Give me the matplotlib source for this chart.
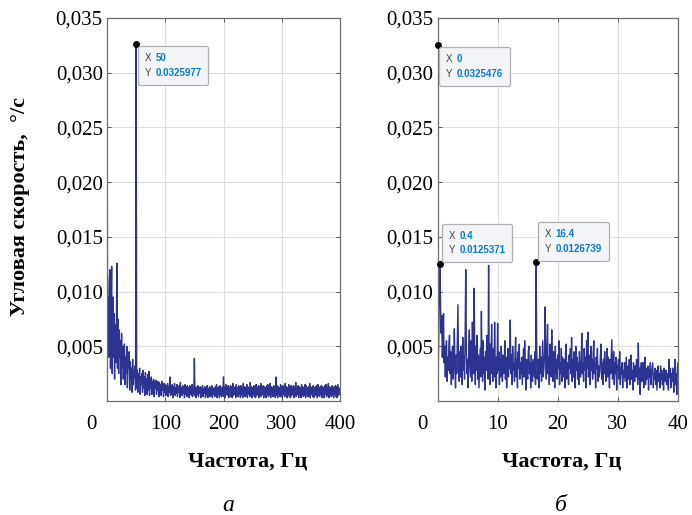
import matplotlib
matplotlib.use('Agg')
import matplotlib.pyplot as plt
import numpy as np
from matplotlib.ticker import FuncFormatter
from matplotlib.offsetbox import TextArea, HPacker, VPacker, AnnotationBbox

# amplitude spectra, values in 1e-4 deg/s
# panel a: 0..400 Hz, 1 Hz step
freq_a = np.arange(0, 401, 1)
amp_a = [
    325, 60, 95, 40, 110, 120, 30, 85, 123, 25,
    95, 40, 80, 20, 70, 35, 60, 126, 30, 75,
    25, 65, 40, 55, 15, 62, 30, 50, 20, 45,
    52, 15, 40, 25, 50, 12, 38, 30, 45, 10,
    36, 20, 30, 8, 38, 15, 28, 22, 32, 10,
    326, 12, 28, 8, 25, 18, 30, 6, 22, 15,
    25, 8, 28, 12, 22, 5, 26, 14, 20, 6,
    24, 10, 27, 5, 20, 12, 22, 6, 18, 10,
    20, 4, 18, 12, 19, 6, 16, 10, 18, 4,
    17, 8, 15, 5, 18, 10, 14, 4, 16, 8,
    15, 5, 14, 9, 16, 4, 13, 8, 22, 5,
    14, 6, 15, 3, 13, 9, 16, 5, 12, 7,
    15, 4, 13, 8, 14, 3, 17, 6, 12, 5,
    14, 7, 12, 3, 15, 6, 13, 4, 14, 8,
    12, 3, 14, 6, 13, 5, 15, 4, 12, 7,
    39, 5, 13, 3, 12, 6, 14, 4, 12, 7,
    13, 3, 12, 6, 14, 4, 11, 7, 13, 3,
    12, 5, 14, 3, 11, 6, 13, 4, 12, 5,
    14, 3, 12, 6, 11, 4, 13, 5, 15, 3,
    12, 6, 13, 3, 14, 5, 11, 4, 13, 6,
    22, 4, 13, 3, 15, 6, 12, 5, 14, 3,
    12, 6, 14, 4, 13, 3, 16, 5, 12, 6,
    13, 3, 15, 5, 12, 4, 14, 6, 13, 3,
    14, 5, 12, 3, 16, 6, 13, 4, 12, 5,
    15, 3, 13, 6, 12, 4, 17, 5, 13, 3,
    12, 6, 14, 4, 13, 3, 15, 5, 12, 6,
    14, 3, 13, 5, 16, 4, 12, 6, 14, 3,
    13, 5, 12, 3, 14, 6, 15, 4, 12, 5,
    16, 3, 13, 6, 12, 4, 14, 5, 13, 3,
    22, 5, 14, 3, 13, 6, 12, 4, 15, 5,
    13, 3, 14, 6, 12, 4, 16, 5, 13, 3,
    12, 6, 15, 4, 13, 3, 14, 5, 12, 6,
    14, 3, 13, 5, 17, 4, 12, 6, 14, 3,
    13, 5, 12, 3, 15, 6, 13, 4, 12, 5,
    15, 3, 14, 6, 12, 4, 13, 5, 16, 3,
    12, 6, 13, 4, 14, 3, 12, 5, 13, 6,
    14, 3, 15, 5, 12, 4, 13, 6, 14, 3,
    13, 5, 12, 3, 14, 6, 15, 4, 12, 5,
    16, 3, 13, 6, 12, 4, 14, 5, 13, 3,
    12, 6, 14, 4, 13, 3, 15, 5, 12, 6,
    10,
]

# panel b: 0..40 Hz, 0.1 Hz step
freq_b = np.round(np.arange(0, 401) * 0.1, 1)
amp_b = [
    325, 20, 60, 95, 125, 90, 62, 78, 40, 55,
    80, 35, 50, 22, 48, 55, 18, 40, 28, 52,
    60, 25, 45, 15, 38, 50, 20, 33, 66, 30,
    12, 42, 25, 55, 88, 30, 18, 45, 22, 50,
    35, 15, 58, 28, 40, 20, 62, 120, 45, 25,
    38, 12, 48, 65, 30, 22, 55, 18, 72, 40,
    25, 103, 35, 15, 50, 28, 60, 20, 42, 12,
    30, 48, 22, 82, 35, 18, 55, 25, 40, 10,
    45, 28, 60, 35, 20, 124, 38, 15, 52, 25,
    70, 30, 18, 48, 22, 72, 35, 12, 40, 25,
    71, 28, 45, 15, 38, 22, 50, 30, 18, 42,
    25, 35, 55, 20, 40, 12, 32, 48, 22, 38,
    30, 74, 25, 42, 15, 50, 28, 35, 18, 45,
    58, 22, 38, 12, 45, 30, 52, 20, 35, 25,
    40, 15, 32, 48, 22, 55, 28, 10, 38, 30,
    20, 45, 50, 25, 35, 12, 42, 28, 18, 38,
    30, 22, 45, 15, 127, 50, 20, 38, 28, 12,
    50, 25, 40, 18, 35, 55, 22, 30, 42, 86,
    35, 20, 48, 70, 25, 40, 15, 52, 30, 22,
    65, 28, 18, 45, 35, 12, 50, 25, 38, 20,
    42, 30, 55, 15, 35, 25, 48, 18, 40, 28,
    22, 38, 12, 45, 52, 20, 35, 28, 15, 42,
    30, 48, 25, 58, 18, 38, 22, 45, 32, 12,
    50, 28, 40, 20, 35, 15, 45, 30, 22, 38,
    62, 25, 35, 18, 48, 28, 40, 12, 55, 30,
    63, 22, 42, 35, 15, 50, 28, 38, 20, 45,
    55, 25, 35, 12, 40, 30, 48, 18, 32, 22,
    28, 42, 52, 20, 35, 15, 38, 25, 45, 30,
    18, 35, 48, 22, 40, 28, 12, 38, 25, 42,
    56, 20, 30, 45, 15, 35, 25, 40, 10, 32,
    28, 38, 20, 45, 15, 30, 25, 35, 12, 28,
    22, 35, 18, 30, 40, 12, 25, 32, 20, 38,
    15, 30, 42, 20, 28, 10, 35, 25, 18, 32,
    22, 38, 28, 15, 53, 20, 30, 6, 25, 35,
    18, 28, 35, 12, 22, 40, 15, 30, 20, 25,
    32, 10, 28, 22, 35, 15, 25, 30, 35, 12,
    25, 20, 30, 15, 28, 10, 22, 32, 18, 25,
    12, 32, 20, 28, 15, 25, 10, 30, 22, 18,
    28, 15, 25, 20, 10, 38, 22, 30, 12, 25,
    18, 30, 22, 8, 28, 38, 15, 25, 6, 30,
    35,
]

# datatips: (x, y, x text, y text, box above point?)
tips_a = [(50, 0.0325977, '50', '0.0325977', False)]
tips_b = [(0, 0.0325476, '0', '0.0325476', False),
          (0.4, 0.0125371, '0.4', '0.0125371', True),
          (16.4, 0.0126739, '16.4', '0.0126739', True)]

yticks = [0.005, 0.010, 0.015, 0.020, 0.025, 0.030, 0.035]
xticks_a = [0, 100, 200, 300, 400]
xticks_b = [0, 10, 20, 30, 40]

line_col = '#2c3391'
serif = 'Liberation Serif'

fig = plt.figure(figsize=(6.92, 5.15), dpi=100)
ax1 = fig.add_axes([107/692, 1-401/515, 233/692, 383/515])
ax2 = fig.add_axes([437.5/692, 1-401/515, 240.5/692, 383/515])

def comma(v, pos):
    return ('%.3f' % v).replace('.', ',')

def datatip(ax, x, y, xs, ys, above):
    ax.plot([x], [y], 'o', color='k', ms=4, zorder=6, clip_on=False)
    kp = dict(color='#404040', fontsize=7, family='Liberation Sans')
    vp = dict(color='#0a7ad0', fontsize=7, family='Liberation Sans', weight='bold')
    rows = [HPacker(children=[TextArea(k, textprops=kp), TextArea(v, textprops=vp)],
                    pad=0, sep=3, align='baseline')
            for k, v in (('X', xs), ('Y', ys))]
    box = VPacker(children=rows, pad=5, sep=3.5, align='left')
    ab = AnnotationBbox(box, (x, y), xybox=(1.2, 1.0 if above else -1.4),
                        boxcoords='offset points',
                        box_alignment=(0, 0 if above else 1), pad=0,
                        frameon=True, zorder=7,
                        bboxprops=dict(boxstyle='round,pad=0,rounding_size=0.15',
                                       fc='#f3f5f9', ec='#b0b0b0', lw=0.9))
    ax.add_artist(ab)

for ax, f, a, xt, tips in ((ax1, freq_a, amp_a, xticks_a, tips_a),
                           (ax2, freq_b, amp_b, xticks_b, tips_b)):
    ax.plot(f, np.array(a) * 1e-4, color=line_col, lw=1.0)
    ax.set_xlim(xt[0], xt[-1])
    ax.set_ylim(0, 0.035)
    ax.set_xticks(xt)
    ax.set_yticks(yticks)
    ax.xaxis.set_major_formatter(FuncFormatter(lambda v, p: '' if v == 0 else '%g' % v))
    ax.yaxis.set_major_formatter(FuncFormatter(comma))
    ax.grid(True, color='#dedede', lw=0.8)
    ax.set_axisbelow(True)
    ax.tick_params(direction='in', length=3, width=0.7, color='#555555',
                   top=True, right=True, labelsize=15)
    ax.tick_params(axis='x', pad=10)
    ax.tick_params(axis='y', pad=3)
    for lbl in ax.get_xticklabels() + ax.get_yticklabels():
        lbl.set_family(serif)
    for s in ax.spines.values():
        s.set_color('#6e6e6e')
        s.set_linewidth(0.9)
    # corner "0" sits left of the axis origin
    ax.annotate('0', xy=(0, 0), xycoords='axes fraction', xytext=(-11, -10),
                textcoords='offset points', ha='center', va='top',
                fontsize=15, family=serif)
    ax.set_xlabel('Частота, Гц', fontsize=16, family=serif, weight='bold')
    for t in tips:
        datatip(ax, *t)

ax1.xaxis.set_label_coords((248-107)/233, (401-451)/383)
ax2.xaxis.set_label_coords((562-437.5)/240.5, (401-451)/383)

fig.text(20/692, 1-207/515, 'Угловая скорость,  °/с', rotation=90,
         ha='center', va='center', fontsize=16, family=serif, weight='bold')
fig.text(228/692, 1-511/515, 'а', ha='center', va='baseline', fontsize=17,
         family=serif, style='italic')
fig.text(561/692, 1-511/515, 'б', ha='center', va='baseline', fontsize=17,
         family=serif, style='italic')

fig.savefig('out.png', dpi=100)
